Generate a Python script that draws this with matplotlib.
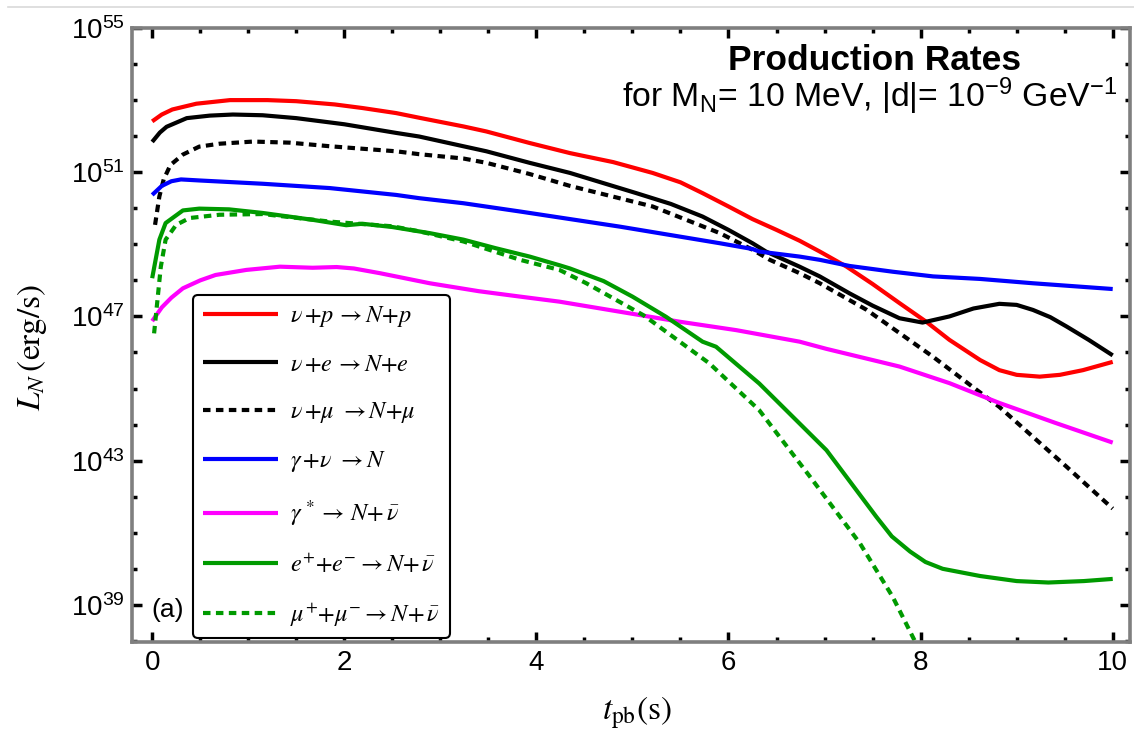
import numpy as np
import matplotlib
matplotlib.use("Agg")
import matplotlib.pyplot as plt
from matplotlib.font_manager import FontProperties
from matplotlib.ticker import FixedLocator, FuncFormatter, NullFormatter
from matplotlib.lines import Line2D

# ---------------- data (t in s, log10 of L_N in erg/s) ----------------
t_nup = [0.0, 0.1, 0.21, 0.46, 0.81, 1.2, 1.5, 1.9, 2.19, 2.54, 2.8, 3.24, 3.48, 3.93,
         4.35, 4.8, 5.21, 5.5, 5.73, 6.0, 6.25, 6.5, 6.74, 6.95, 7.23, 7.5, 7.78, 8.06,
         8.3, 8.62, 8.82, 9.0, 9.24, 9.45, 9.69, 10.0]
logL_nup = [52.41, 52.6, 52.74, 52.9, 53.0, 53.0, 52.97, 52.88, 52.78, 52.64, 52.5, 52.27,
            52.13, 51.81, 51.53, 51.28, 50.98, 50.72, 50.42, 50.05, 49.7, 49.4, 49.1,
            48.8, 48.38, 47.9, 47.37, 46.85, 46.35, 45.79, 45.51, 45.38, 45.33, 45.38,
            45.51, 45.74]

t_nue = [0.0, 0.08, 0.15, 0.36, 0.6, 0.84, 1.15, 1.5, 2.0, 2.54, 2.78, 3.24, 3.48, 3.93,
         4.35, 5.04, 5.4, 5.73, 6.0, 6.25, 6.39, 6.74, 6.95, 7.26, 7.5, 7.78, 8.02, 8.3,
         8.55, 8.82, 9.0, 9.17, 9.35, 9.52, 9.75, 10.0]
logL_nue = [51.84, 52.1, 52.26, 52.5, 52.57, 52.6, 52.58, 52.5, 52.33, 52.09, 51.99, 51.72,
            51.58, 51.26, 50.98, 50.42, 50.12, 49.77, 49.4, 49.03, 48.8, 48.38, 48.11,
            47.64, 47.3, 46.95, 46.83, 47.0, 47.22, 47.35, 47.32, 47.18, 46.98, 46.72,
            46.35, 45.92]

t_numu = [0.03, 0.075, 0.12, 0.19, 0.32, 0.49, 0.7, 1.05, 1.43, 1.85, 2.54, 2.78, 3.24,
          3.48, 3.93, 4.35, 5.21, 5.91, 6.25, 6.43, 6.74, 6.95, 7.44, 8.13, 8.54, 8.82,
          9.52, 10.0]
logL_numu = [49.54, 50.33, 50.8, 51.2, 51.49, 51.71, 51.79, 51.85, 51.82, 51.72, 51.58,
             51.5, 51.38, 51.26, 50.95, 50.62, 50.05, 49.31, 48.85, 48.57, 48.2, 47.92,
             47.18, 45.88, 45.05, 44.49, 42.83, 41.67]

t_gnu = [0.0, 0.1, 0.2, 0.3, 0.5, 1.15, 1.85, 2.54, 2.78, 3.24, 3.83, 4.87, 5.91, 6.25,
         6.32, 6.74, 6.95, 7.26, 7.71, 8.13, 8.62, 9.17, 10.0]
logL_gnu = [50.37, 50.62, 50.75, 50.8, 50.77, 50.68, 50.56, 50.37, 50.28, 50.14, 49.91,
            49.49, 49.03, 48.87, 48.8, 48.66, 48.57, 48.4, 48.24, 48.11, 48.04, 47.92,
            47.76]

t_gstar = [0.0, 0.1, 0.2, 0.32, 0.5, 0.66, 0.98, 1.33, 1.67, 1.92, 2.1, 2.37, 2.89, 3.4,
           3.83, 4.24, 4.87, 5.5, 6.08, 6.74, 7.02, 7.78, 8.3, 8.82, 9.4, 10.0]
logL_gstar = [46.87, 47.25, 47.52, 47.78, 48.0, 48.15, 48.29, 48.38, 48.35, 48.37, 48.33,
              48.2, 47.92, 47.7, 47.55, 47.41, 47.13, 46.85, 46.62, 46.3, 46.1, 45.61,
              45.15, 44.6, 44.05, 43.5]

t_ee = [0.0, 0.075, 0.14, 0.32, 0.49, 0.8, 1.15, 1.67, 2.02, 2.19, 2.5, 2.89, 3.24, 3.58,
        3.93, 4.24, 4.35, 4.7, 5.0, 5.35, 5.73, 5.87, 6.32, 7.02, 7.54, 7.7, 7.89, 8.05,
        8.23, 8.62, 9.0, 9.33, 9.7, 10.0]
logL_ee = [48.06, 49.13, 49.59, 49.94, 49.99, 49.97, 49.87, 49.68, 49.53, 49.57, 49.48,
           49.31, 49.13, 48.89, 48.66, 48.42, 48.33, 47.98, 47.55, 46.99, 46.3, 46.16,
           45.14, 43.29, 41.44, 40.9, 40.48, 40.19, 40.0, 39.8, 39.66, 39.62, 39.66, 39.72]

t_mumu = [0.02, 0.09, 0.14, 0.25, 0.39, 0.7, 1.15, 1.85, 2.5, 2.78, 3.24, 3.83, 4.24,
          4.52, 5.11, 5.21, 5.8, 6.32, 6.85, 7.37, 7.71, 7.93, 8.0]
logL_mumu = [46.53, 48.38, 49.13, 49.54, 49.73, 49.82, 49.84, 49.63, 49.5, 49.36, 49.08,
             48.57, 48.29, 47.92, 47.04, 46.85, 45.7, 44.4, 42.55, 40.7, 39.22, 38.05,
             37.7]

labels = [r"$\nu\,{+}p\,{\rightarrow}N{+}p$",
          r"$\nu\,{+}e\,{\rightarrow}N{+}e$",
          r"$\nu\,{+}\mu\ {\rightarrow}N{+}\mu$",
          r"$\gamma\,{+}\nu\ {\rightarrow}N$",
          r"$\gamma^{\,*}{\rightarrow}\,N{+}\,\bar{\nu}$",
          r"$e^{+}{+}e^{-}{\rightarrow}N{+}\,\bar{\nu}$",
          r"$\mu^{+}{+}\mu^{-}{\rightarrow}N{+}\,\bar{\nu}$"]

x_major = [0, 2, 4, 6, 8, 10]
y_major_exp = [39, 43, 47, 51, 55]

# ---------------- style ----------------
plt.rcParams["font.family"] = ["Liberation Sans", "DejaVu Sans"]
plt.rcParams["mathtext.fontset"] = "custom"
plt.rcParams["mathtext.rm"] = "Liberation Sans"
plt.rcParams["mathtext.it"] = "Liberation Sans:italic"
plt.rcParams["mathtext.bf"] = "Liberation Sans:bold"

GREEN = "#009a00"
series = [
    (t_nup, logL_nup, "#ff0000", "-"),
    (t_nue, logL_nue, "black", "-"),
    (t_numu, logL_numu, "black", "--"),
    (t_gnu, logL_gnu, "#0000ff", "-"),
    (t_gstar, logL_gstar, "#ff00ff", "-"),
    (t_ee, logL_ee, GREEN, "-"),
    (t_mumu, logL_mumu, GREEN, "--"),
]

fig = plt.figure(figsize=(11.34, 7.40), dpi=100)
ax = fig.add_axes([132 / 1134, 1 - 642 / 740, (1130 - 132) / 1134, (642 - 28) / 740])

handles = []
for (t, lg, c, ls), lab in zip(series, labels):
    ln, = ax.plot(t, 10.0 ** np.asarray(lg), color=c, lw=3.0, ls=ls,
                  solid_capstyle="butt", dash_capstyle="butt", solid_joinstyle="round",
                  label=lab)
    if ls == "--":
        ln.set_dashes((1.8, 1.3))
    handles.append(ln)

ax.set_yscale("log")
ax.set_xlim(-0.21, 10.18)
ax.set_ylim(10 ** 37.97, 1e55)

ax.xaxis.set_major_locator(FixedLocator(x_major))
ax.xaxis.set_minor_locator(FixedLocator(np.arange(0.0, 10.01, 0.5)))
ax.yaxis.set_major_locator(FixedLocator([10.0 ** e for e in y_major_exp]))
ax.yaxis.set_minor_locator(FixedLocator([10.0 ** e for e in range(38, 56)]))
ax.yaxis.set_major_formatter(FuncFormatter(lambda v, p: r"$10^{%d}$" % round(np.log10(v))))
ax.yaxis.set_minor_formatter(NullFormatter())
ax.xaxis.set_major_formatter(FuncFormatter(lambda v, p: "%d" % v))
ax.xaxis.set_minor_formatter(NullFormatter())

ax.tick_params(which="both", direction="in", top=True, right=True, color="black")
ax.tick_params(which="major", length=7, width=2.5, labelsize=20, pad=6)
ax.tick_params(which="minor", length=3.5, width=2.5)
ax.tick_params(axis="y", which="major", labelsize=20, pad=5)

for s in ax.spines.values():
    s.set_color("#7f7f7f")
    s.set_linewidth(2.6)

# axis labels (serif math)
ax.set_ylabel(r"$L_N\,\mathrm{(erg/s)}$", fontsize=24, math_fontfamily="stix")
ax.yaxis.set_label_coords(-0.083, 0.48)
ax.set_xlabel(r"$t_{\mathrm{pb}}\mathrm{(s)}$", fontsize=24, math_fontfamily="stix")
ax.xaxis.set_label_coords(0.506, -0.085)

# legend
lp = FontProperties(size=17.5, math_fontfamily="stix")
leg = ax.legend(handles=handles, loc="lower left", bbox_to_anchor=(0.061, 0.006),
                prop=lp, frameon=True, fancybox=True, framealpha=1, edgecolor="black",
                handlelength=3.1, handletextpad=0.5, labelspacing=1.0, borderpad=0.4,
                borderaxespad=0)
leg.get_frame().set_linewidth(1.5)

# annotations
fig.text(875 / 1134, 1 - 70 / 740, "Production Rates", fontsize=25.5, fontweight="bold",
         ha="center", va="baseline")
fig.text(1117 / 1134, 1 - 107 / 740,
         r"for M$_{\mathrm{N}}$= 10 MeV, |d|= 10$^{\mathrm{-9}}$ GeV$^{\mathrm{-1}}$",
         fontsize=24.3, ha="right", va="baseline")
fig.text(168 / 1134, 1 - 610 / 740, "(a)", fontsize=19, ha="center", va="center")

fig.add_artist(Line2D([8 / 1134, 1.0], [1 - 7 / 740] * 2, color="#d9d9d9", lw=1.2,
                      transform=fig.transFigure))

fig.savefig("out.png", dpi=100)
